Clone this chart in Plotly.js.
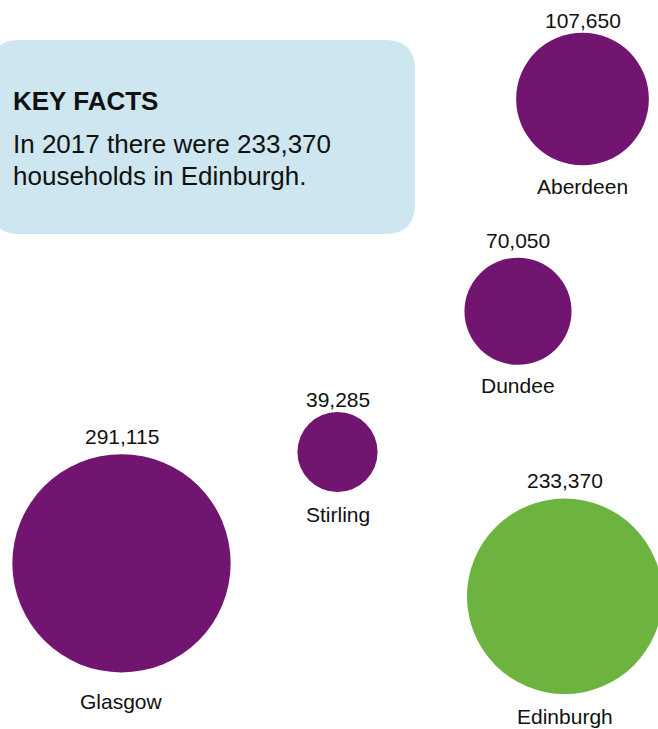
<!DOCTYPE html>
<html>
<head>
<meta charset="utf-8">
<script src="https://cdn.plot.ly/plotly-3.0.1.min.js"></script>
<style>html,body{margin:0;padding:0;background:#fff;}#chart{width:658px;height:729px;}</style>
</head>
<body>
<div id="chart"></div>
<script>
// ---- data ----
var cities = ["Aberdeen", "Dundee", "Stirling", "Glasgow", "Edinburgh"];
var households = [107650, 70050, 39285, 291115, 233370];
var valueLabels = ["107,650", "70,050", "39,285", "291,115", "233,370"];
// bubble layout positions (chart units)
var posX = [582.5, 518, 337.5, 121.5, 564.7];
var posY = [99, 311.3, 452, 563.3, 596.3];
var highlight = "Edinburgh";
var factTitle = "KEY FACTS";
var factLines = ["In 2017 there were 233,370", "households in Edinburgh."];

// ---- styling ----
var PURPLE = "#721570";
var GREEN = "#6db33f";
var BOX = "#cde6ef";
var FONT = "Arial, 'Liberation Sans', sans-serif";
var K = 0.4046; // px diameter per sqrt(household)
var valueGap = [5.3, 10, 5, 10.3, 11];
var nameGap = [14, 13.3, 15.6, 21.7, 15];

var sizes = households.map(function (v) { return K * Math.sqrt(v); });
var colors = cities.map(function (c) { return c === highlight ? GREEN : PURPLE; });

var trace = {
  type: "scatter",
  mode: "markers",
  x: posX,
  y: posY,
  marker: { size: sizes, sizemode: "diameter", color: colors, line: { width: 0 }, opacity: 1 },
  hoverinfo: "skip"
};

var annotations = [];
cities.forEach(function (c, i) {
  var r = sizes[i] / 2;
  annotations.push({
    x: posX[i], y: posY[i] - r - valueGap[i] - 7.2, xref: "x", yref: "y",
    text: valueLabels[i], showarrow: false, xanchor: "center", yanchor: "middle",
    font: { family: FONT, size: 21, color: "#111" }
  });
  annotations.push({
    x: posX[i], y: posY[i] + r + nameGap[i] + 7.2, xref: "x", yref: "y",
    text: c, showarrow: false, xanchor: "center", yanchor: "middle",
    font: { family: FONT, size: 21, color: "#111" }
  });
});
annotations.push({
  x: 11, y: 101.3, xref: "x", yref: "y", text: "<b>" + factTitle + "</b>", showarrow: false,
  xanchor: "left", yanchor: "middle", font: { family: FONT, size: 26, color: "#111" }
});
var lineY = [144, 176];
factLines.forEach(function (t, i) {
  annotations.push({
    x: 11, y: lineY[i], xref: "x", yref: "y", text: t, showarrow: false,
    xanchor: "left", yanchor: "middle", font: { family: FONT, size: 26, color: "#111" }
  });
});

// rounded rectangle for key facts box
var bx0 = -10, bx1 = 415, by0 = 40, by1 = 234, br = 30;
var boxPath = "M " + (bx0 + br) + " " + by0 +
  " L " + (bx1 - br) + " " + by0 +
  " Q " + bx1 + " " + by0 + " " + bx1 + " " + (by0 + br) +
  " L " + bx1 + " " + (by1 - br) +
  " Q " + bx1 + " " + by1 + " " + (bx1 - br) + " " + by1 +
  " L " + (bx0 + br) + " " + by1 +
  " Q " + bx0 + " " + by1 + " " + bx0 + " " + (by1 - br) +
  " L " + bx0 + " " + (by0 + br) +
  " Q " + bx0 + " " + by0 + " " + (bx0 + br) + " " + by0 + " Z";

var layout = {
  width: 658, height: 729,
  margin: { l: 0, r: 0, t: 0, b: 0, pad: 0 },
  paper_bgcolor: "#fff", plot_bgcolor: "#fff",
  showlegend: false,
  xaxis: { range: [0, 658], visible: false, fixedrange: true },
  yaxis: { range: [729, 0], visible: false, fixedrange: true },
  shapes: [{ type: "path", path: boxPath, xref: "x", yref: "y", fillcolor: BOX, line: { width: 0 }, layer: "below" }],
  annotations: annotations
};

Plotly.newPlot("chart", [trace], layout, { displayModeBar: false, staticPlot: true });
</script>
</body>
</html>
